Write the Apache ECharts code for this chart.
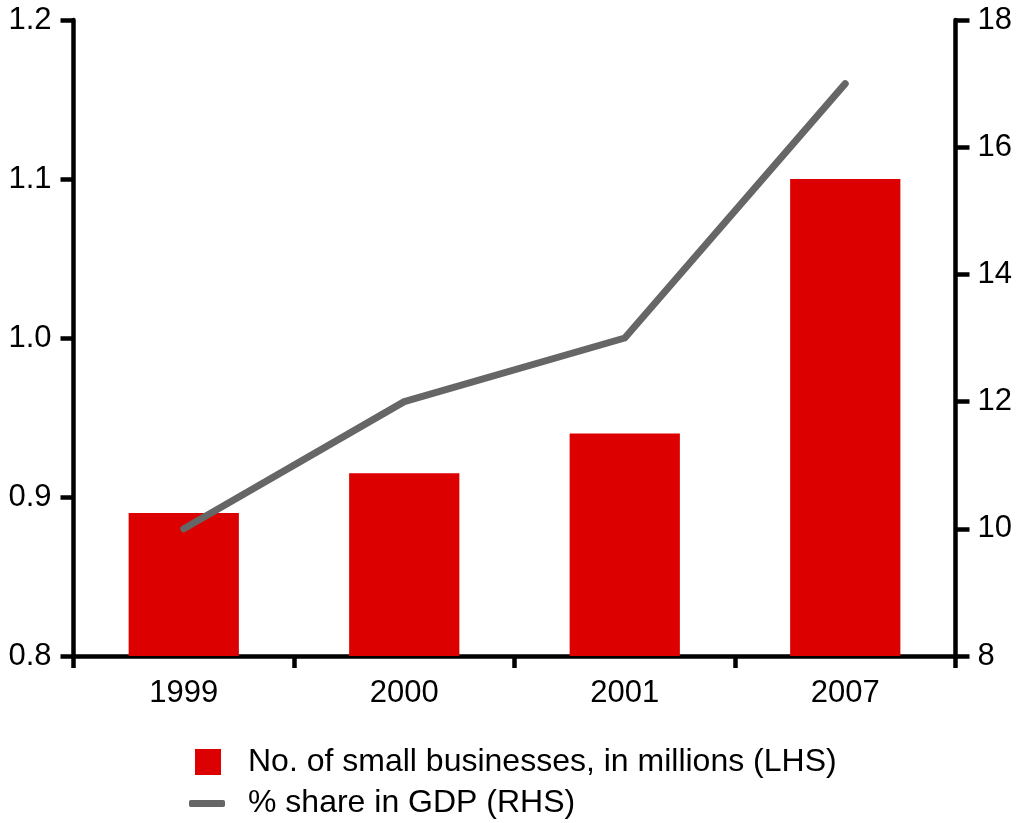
<!DOCTYPE html>
<html>
<head>
<meta charset="utf-8">
<script src="https://cdn.jsdelivr.net/npm/echarts@6/dist/echarts.min.js"></script>
<style>html,body{margin:0;padding:0;background:#fff}#c{width:1016px;height:823px}</style>
</head>
<body>
<div id="c"></div>
<script>
const categories = ['1999', '2000', '2001', '2007'];
const businesses = [0.89, 0.915, 0.94, 1.10];
const gdpShare = [10, 12, 13, 17];
const barName = 'No. of small businesses, in millions (LHS)';
const lineName = '% share in GDP (RHS)';

const font = '"Liberation Sans", Arial, sans-serif';
const chart = echarts.init(document.getElementById('c'));
const axisLineStyle = { color: '#000', width: 4.5 };
const tickStyle = { color: '#000', width: 4.5 };
chart.setOption({
  animation: false,
  backgroundColor: '#fff',
  grid: { left: 73.5, right: 60.5, top: 20, bottom: 167, containLabel: false },
  legend: [
    {
      data: [{ name: barName, icon: 'rect' }],
      left: 195, top: 746, itemWidth: 26, itemHeight: 26, padding: 0,
      textStyle: { fontFamily: font, fontSize: 32, lineHeight: 32, color: '#000', padding: [0, 0, 0, 22] }
    },
    {
      data: [{ name: lineName, icon: 'roundRect' }],
      left: 189, top: 787.5, itemWidth: 36, itemHeight: 7, padding: 0,
      textStyle: { fontFamily: font, fontSize: 32, lineHeight: 32, color: '#000', padding: [0, 0, 0, 18] }
    }
  ],
  xAxis: {
    type: 'category',
    data: categories,
    boundaryGap: true,
    axisLine: { lineStyle: axisLineStyle },
    axisTick: { show: true, length: 12, lineStyle: tickStyle, alignWithLabel: false },
    axisLabel: { fontFamily: font, fontSize: 31, color: '#000', margin: 22 },
    splitLine: { show: false }
  },
  yAxis: [
    {
      type: 'value', min: 0.8, max: 1.2, interval: 0.1, position: 'left',
      axisLine: { show: true, lineStyle: axisLineStyle },
      axisTick: { show: true, length: 13, lineStyle: tickStyle },
      axisLabel: { fontFamily: font, fontSize: 31, color: '#000', margin: 22,
        formatter: v => v.toFixed(1) },
      splitLine: { show: false }
    },
    {
      type: 'value', min: 8, max: 18, interval: 2, position: 'right',
      axisLine: { show: true, lineStyle: axisLineStyle },
      axisTick: { show: true, length: 14, lineStyle: tickStyle },
      axisLabel: { fontFamily: font, fontSize: 31, color: '#000', margin: 22 },
      splitLine: { show: false }
    }
  ],
  series: [
    {
      name: barName, type: 'bar', data: businesses, yAxisIndex: 0,
      barWidth: '50%', itemStyle: { color: '#DD0000' }
    },
    {
      name: lineName, type: 'line', data: gdpShare, yAxisIndex: 1,
      showSymbol: false, symbol: 'none',
      lineStyle: { color: '#666666', width: 7, cap: 'round', join: 'round' },
      itemStyle: { color: '#666666' }
    }
  ]
});
</script>
</body>
</html>
